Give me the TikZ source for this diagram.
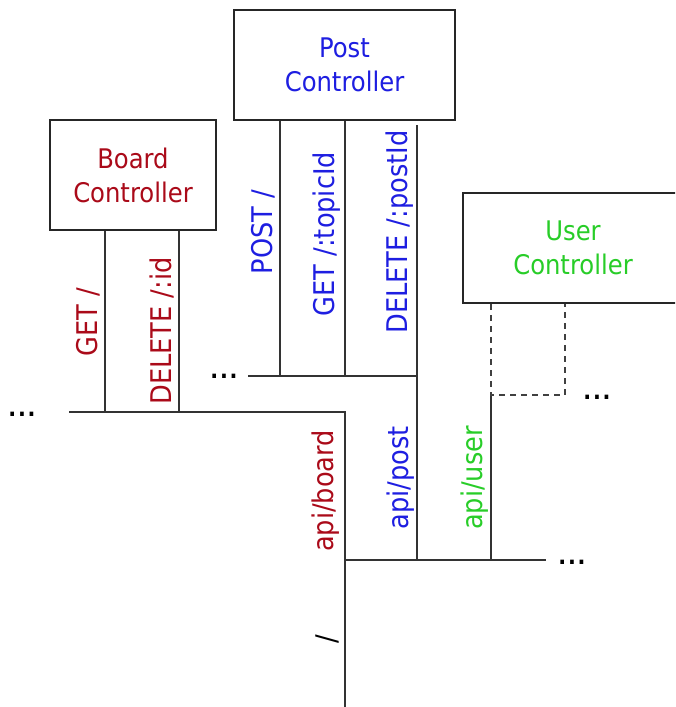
\documentclass[tikz,border=0pt]{standalone}
\usepackage{fontspec}
\setmainfont{DejaVu Sans Condensed}
\newcommand{\mydots}{.\kern1.8pt.\kern1.8pt.}
\begin{document}
\begin{tikzpicture}[x=1pt,y=1pt,
  ln/.style={draw=black!80, line width=2.3pt},
  dl/.style={draw=black!75, line width=2.2pt, dash pattern=on 6pt off 5pt},
  ctrl/.style={draw=black!85, line width=2.3pt, fill=white, align=center, inner sep=0pt,
    font=\fontsize{27}{34}\selectfont},
  lbl/.style={rotate=90, inner sep=0pt, anchor=center, font=\fontsize{28.5}{32}\selectfont},
  dots/.style={inner sep=0pt, anchor=base, font=\bfseries\fontsize{23}{24}\selectfont}]
\definecolor{cred}{RGB}{170,10,25}
\definecolor{cblue}{RGB}{30,30,225}
\definecolor{cgreen}{RGB}{40,205,40}
\useasboundingbox (0,0) rectangle (675,-707);
\clip (0,0) rectangle (675,-707);
% boxes
\node[ctrl, minimum width=221pt, minimum height=110pt, text=cblue] (post) at (344.5,-65) {Post\\Controller};
\node[ctrl, minimum width=166pt, minimum height=110pt, text=cred] (board) at (133,-175) {Board\\Controller};
\node[ctrl, minimum width=220pt, minimum height=110pt, text=cgreen] (user) at (573,-248) {User\\Controller};
% coordinates
\coordinate (bg) at (105,-412);
\coordinate (bd) at (179,-412);
\coordinate (bl) at (69,-412);
\coordinate (root) at (345,-412);
\coordinate (bottom) at (345,-707);
\coordinate (pl) at (248,-376);
\coordinate (pp) at (280,-376);
\coordinate (pg) at (345,-376);
\coordinate (pd) at (417,-376);
\coordinate (pdtop) at (417,-125);
\coordinate (rp) at (417,-560);
\coordinate (ru) at (491,-560);
\coordinate (rb) at (345,-560);
\coordinate (rr) at (546,-560);
\coordinate (uj) at (491,-395);
\coordinate (uk) at (565,-395);
% board
\draw[ln] (board.south -| bg) -- (bg);
\draw[ln] (board.south -| bd) -- (bd);
\draw[ln] (bl) -- (root) -- (bottom);
% post
\draw[ln] (post.south -| pp) -- (pp);
\draw[ln] (post.south -| pg) -- (pg);
\draw[ln] (pdtop) -- (pd);
\draw[ln] (pl) -- (pd) -- (rp);
% root
\draw[ln] (rb) -- (rr);
\draw[ln] (ru) -- (uj);
% user dashed
\draw[dl] (user.south -| uj) -- (uj) -- (uk) -- (user.south -| uk);
% labels
\node[lbl, text=cred] (lgb) at (88,-322) {GET /};
\node[lbl, text=cred] (ldb) at (162,-331) {DELETE /:id};
\node[lbl, text=cblue] (lpp) at (263,-232) {POST /};
\node[lbl, text=cblue] (lgp) at (327,-234) {GET /:topicId};
\node[lbl, text=cblue] (ldp) at (400,-232) {DELETE /:postId};
\node[lbl, text=cred] (lab) at (326,-491) {api/board};
\node[lbl, text=cblue] (lap) at (401,-478) {api/post};
\node[lbl, text=cgreen] (lau) at (475,-478) {api/user};
\node[lbl] (lroot) at (327,-639) {/};
% dots
\node[dots] (d1) at (22,-416) {\mydots};
\node[dots] (d2) at (224,-378) {\mydots};
\node[dots] (d3) at (597,-399) {\mydots};
\node[dots] (d4) at (572,-564) {\mydots};
\end{tikzpicture}
\end{document}
